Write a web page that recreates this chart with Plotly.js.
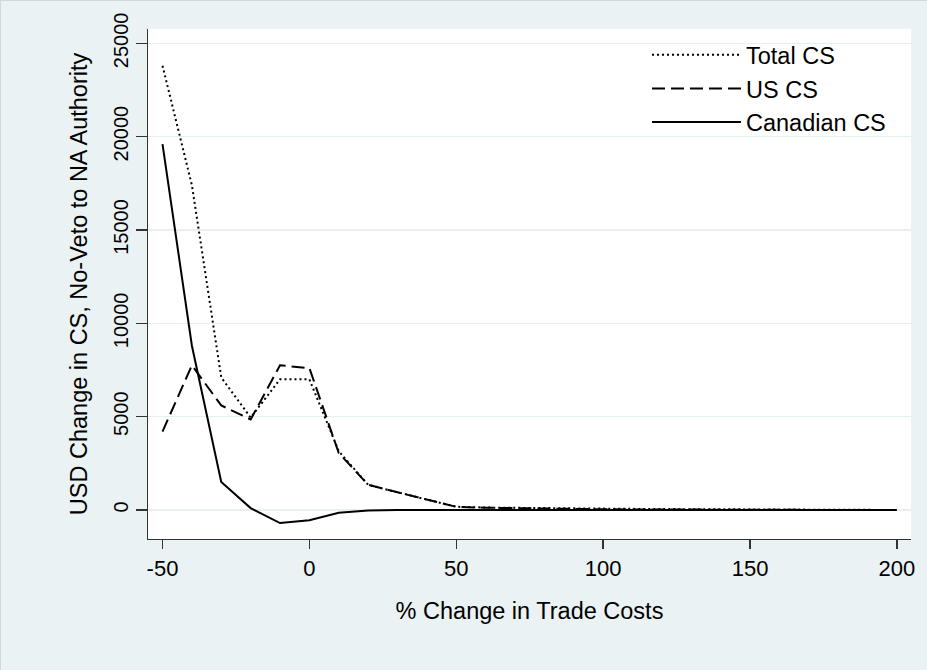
<!DOCTYPE html>
<html>
<head>
<meta charset="utf-8">
<script src="https://cdn.plot.ly/plotly-3.0.1.min.js"></script>
<style>
  html, body { margin: 0; padding: 0; background: #EAF2F3; }
  #chart { width: 927px; height: 670px; box-sizing: border-box; border: 1px solid #cfd8da; }
</style>
</head>
<body>
<div id="chart"></div>
<script>
// % change in trade costs
const tradeCostChange = [-50, -40, -30, -20, -10, 0, 10, 20, 30, 40, 50, 60, 70, 80, 90, 100, 110, 120, 130, 140, 150, 160, 170, 180, 190, 200];
// USD change in consumer surplus
const totalCS    = [23800, 17400, 7100, 4950, 7000, 7000, 3150, 1350, 950, 550, 170, 130, 110, 90, 80, 70, 60, 50, 40, 30, 20, 10, 5, 3, 2, 1];
const usCS       = [4200, 7750, 5600, 4850, 7750, 7600, 3050, 1350, 950, 550, 170, 120, 90, 70, 50, 40, 30, 20, 15, 10, 8, 6, 5, 4, 3, 2];
const canadianCS = [19600, 8800, 1500, 100, -700, -550, -150, -30, 0, 0, 0, 0, 0, 0, 0, 0, 0, 0, 0, 0, 0, 0, 0, 0, 0, 0];

const seriesNames = ['Total CS', 'US CS', 'Canadian CS'];
const xTickVals = [-50, 0, 50, 100, 150, 200];
const xTickText = ['-50', '0', '50', '100', '150', '200'];
const yTickVals = [0, 5000, 10000, 15000, 20000, 25000];
const yTickText = ['0', '5000', '10000', '15000', '20000', '25000'];

const FONT = 'Liberation Sans, Arial, sans-serif';

const traces = [
  { x: tradeCostChange, y: totalCS, name: seriesNames[0], mode: 'lines',
    line: { color: '#000', width: 2, dash: '2px,3px' } },
  { x: tradeCostChange, y: usCS, name: seriesNames[1], mode: 'lines',
    line: { color: '#000', width: 2, dash: '13px,6px' } },
  { x: tradeCostChange, y: canadianCS, name: seriesNames[2], mode: 'lines',
    line: { color: '#000', width: 2 } }
];

const layout = {
  width: 927, height: 670,
  paper_bgcolor: '#EAF2F3',
  plot_bgcolor: '#FFFFFF',
  margin: { l: 147, r: 17, t: 28, b: 132 },
  font: { family: FONT, size: 22, color: '#000' },
  showlegend: true,
  legend: {
    x: 0.654, y: 0.992, xanchor: 'left', yanchor: 'top',
    bgcolor: 'rgba(255,255,255,0)', borderwidth: 0,
    font: { family: FONT, size: 23.5, color: '#000' },
    itemwidth: 89, tracegroupgap: 0
  },
  xaxis: {
    range: [-54.94, 204.8],
    tickvals: xTickVals, ticktext: xTickText,
    ticks: 'outside', ticklen: 9, tickwidth: 1.3, tickcolor: '#333',
    showline: true, linecolor: '#333', linewidth: 1.3,
    showgrid: false, zeroline: false,
    tickfont: { family: FONT, size: 22, color: '#000' },
    title: { text: '% Change in Trade Costs', font: { family: FONT, size: 23.5, color: '#000' }, standoff: 22 }
  },
  yaxis: {
    range: [-1554, 25766],
    tickvals: yTickVals, ticktext: yTickText,
    tickangle: -90,
    ticks: 'outside', ticklen: 11, tickwidth: 1.3, tickcolor: '#333',
    showline: true, linecolor: '#333', linewidth: 1.3,
    showgrid: true, gridcolor: '#E6EFF1', gridwidth: 1.5,
    zeroline: false,
    tickfont: { family: FONT, size: 20, color: '#000' },
    title: { text: 'USD Change in CS, No-Veto to NA Authority', font: { family: FONT, size: 23.5, color: '#000' }, standoff: 15 }
  }
};

Plotly.newPlot('chart', traces, layout, { displayModeBar: false, staticPlot: true });
</script>
</body>
</html>
